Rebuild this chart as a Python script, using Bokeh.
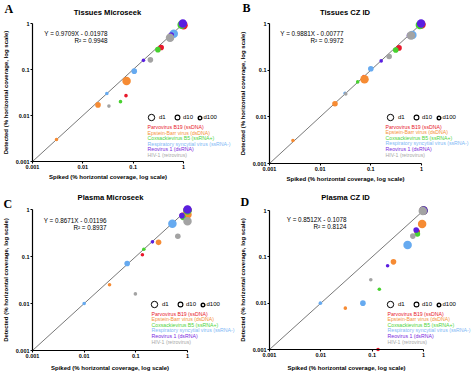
import numpy as np
from bokeh.plotting import figure
from bokeh.layouts import gridplot
from bokeh.models import ColumnDataSource, Label, Legend, LegendItem, FixedTicker, Range1d
from bokeh.embed import file_html
from bokeh.resources import INLINE

# ---------------- data ----------------
viruses = ["Parvovirus B19 (ssDNA)", "Epstein-Barr virus (dsDNA)",
           "Coxsackievirus B5 (ssRNA+)", "Respiratory syncytial virus (ssRNA-)",
           "Reovirus 1 (dsRNA)", "HIV-1 (retrovirus)"]
dilutions = ["d1", "d10", "d100"]
tick_values = [0.001, 0.01, 0.1, 1]
tick_labels = ["0.001", "0.01", "0.1", "1"]
identity_line = [0.001, 1]

panel_letters = ["A", "B", "C", "D"]
panel_titles = ["Tissues Microseek", "Tissues CZ ID", "Plasma Microseek", "Plasma CZ ID"]
fit_equations = ["Y = 0.9709X - 0.01978", "Y = 0.9881X - 0.00777",
                 "Y = 0.8671X - 0.01196", "Y = 0.8512X - 0.1078"]
fit_r2 = ["R\u00b2 = 0.9948", "R\u00b2 = 0.9972", "R\u00b2 = 0.8937", "R\u00b2 = 0.8124"]
x_label = "Spiked (% horizontal coverage, log scale)"
y_label = "Detected (% horizontal coverage, log scale)"

# order: virus by virus, each [d1, d10, d100]
tissues_microseek_spiked = [1.0, 0.36, 0.072, 0.074, 0.020, 0.0030, 0.92, 0.31, 0.056,
                            0.64, 0.105, 0.030, 0.97, 0.57, 0.16, 0.54, 0.22, 0.033]
tissues_microseek_detected = [0.92, 0.30, 0.027, 0.056, 0.017, 0.0030, 0.94, 0.27, 0.020,
                              0.60, 0.092, 0.030, 1.0, 0.56, 0.158, 0.49, 0.162, 0.016]
tissues_czid_spiked = [1.0, 0.36, 0.073, 0.075, 0.0196, 0.0029, 0.93, 0.31, 0.055,
                       0.66, 0.10, 0.031, 0.98, 0.58, 0.16, 0.62, 0.23, 0.032]
tissues_czid_detected = [0.95, 0.30, 0.073, 0.064, 0.019, 0.0031, 0.93, 0.27, 0.056,
                         0.57, 0.107, 0.032, 1.0, 0.55, 0.158, 0.55, 0.196, 0.031]
plasma_microseek_spiked = [1.0, 0.80, 0.134, 1.0, 0.275, 0.031, 1.0, 0.82, 0.143,
                           0.51, 0.068, 0.010, 1.0, 0.78, 0.21, 1.0, 0.65, 0.098]
plasma_microseek_detected = [0.97, 0.75, 0.109, 0.78, 0.20, 0.025, 0.95, 0.68, 0.143,
                             0.50, 0.071, 0.010, 1.0, 0.74, 0.205, 0.56, 0.27, 0.016]
plasma_czid_spiked = [1.0, 0.75, 0.13, 0.94, 0.26, 0.030, 1.0, 0.76, 0.138,
                      0.49, 0.066, 0.0098, 1.0, 0.72, 0.20, 0.97, 0.62, 0.094]
plasma_czid_detected = [1.0, 0.35, 0.001, 0.51, 0.078, 0.0078, 1.0, 0.31, 0.020,
                        0.18, 0.010, 0.010, 1.0, 0.38, 0.064, 0.97, 0.28, 0.032]

# ---------------- styles ----------------
virus_colors = ["#e8192c", "#f68b33", "#47d12f", "#66aaf0", "#5a1fe0", "#a3a3a3"]
legend_text_colors = ["#e8192c", "#f5923a", "#4fd43a", "#80b8f5", "#7a2be0", "#a8a8a8"]
dilution_sizes = [8.5, 5.6, 3.6]
legend_circle_sizes = [6.5, 4.8, 3.6]
legend_circle_widths = [1.0, 1.1, 1.4]
legend_circle_dx = [0, 26, 48]
legend_label_gap = [4, 3.5, 2.5]
SANS = "Liberation Sans"

panel_data = [
    (tissues_microseek_spiked, tissues_microseek_detected),
    (tissues_czid_spiked, tissues_czid_detected),
    (plasma_microseek_spiked, plasma_microseek_detected),
    (plasma_czid_spiked, plasma_czid_detected),
]

# figure-pixel geometry of each panel (L/R: x pixels of 0.001 and 1, T/B: y pixels of 1 and 0.001)
geometry = [
    dict(W=237, H=187, L=32, R=183, T=23, B=161, letter=(4, 8.5), title=(107, 12),
         eq=(107, 33, 39.5), xlab_standoff=2, leg=(151, 117, 147, 126.5)),
    dict(W=237, H=187, L=32, R=184, T=23, B=163, letter=(5, 7.5), title=(107.5, 12),
         eq=(106, 33, 40), xlab_standoff=2, leg=(153, 117, 148, 126)),
    dict(W=237, H=188, L=32, R=187, T=22, B=163, letter=(3, 16), title=(110, 10),
         eq=(106, 33, 39.5), xlab_standoff=4, leg=(154, 117, 151, 126)),
    dict(W=237, H=188, L=32, R=186, T=23, B=162, letter=(3, 14.5), title=(108, 10),
         eq=(109, 32, 39), xlab_standoff=5, leg=(153, 117, 150, 126)),
]


def add_label(p, g, fx, fy, text, **kw):
    p.add_layout(Label(x=fx, y=g["H"] - fy, x_units="screen", y_units="screen",
                       text=text, **kw))


def make_panel(i):
    g = geometry[i]
    spiked, detected = panel_data[i]
    L, R, T, B, W, H = g["L"], g["R"], g["T"], g["B"], g["W"], g["H"]
    lo = tick_values[0]
    x_start = 10 ** (np.log10(lo) - 3 * L / (R - L))
    x_end = 10 ** (np.log10(lo) + 3 * (W - L) / (R - L))
    y_start = 10 ** (np.log10(lo) - 3 * (H - B) / (B - T))
    y_end = 10 ** (np.log10(lo) + 3 * B / (B - T))
    p = figure(width=W, height=H, x_axis_type="log", y_axis_type="log",
               x_range=Range1d(x_start, x_end), y_range=Range1d(y_start, y_end),
               min_border=0, min_border_left=0, min_border_right=0,
               min_border_top=0, min_border_bottom=0,
               output_backend="svg", toolbar_location=None, tools="", title=None)
    p.outline_line_color = None
    p.grid.visible = False
    p.background_fill_color = "white"
    p.border_fill_color = "white"
    for ax in (p.xaxis[0], p.yaxis[0]):
        ax.ticker = FixedTicker(ticks=tick_values, minor_ticks=[])
        ax.bounds = (tick_values[0], tick_values[-1])
        ax.fixed_location = lo
        ax.major_label_overrides = dict(zip(tick_values, tick_labels))
        ax.axis_line_color = "black"
        ax.axis_line_width = 1.2
        ax.major_tick_line_color = "black"
        ax.major_tick_line_width = 1.1
        ax.major_tick_out = 2
        ax.major_tick_in = 0
        ax.minor_tick_line_color = None
        ax.major_label_text_font = SANS
        ax.major_label_text_font_style = "bold"
        ax.major_label_text_font_size = "5.5px"
        ax.major_label_text_color = "black"
        ax.major_label_standoff = 1
        ax.axis_label_text_font = SANS
        ax.axis_label_text_font_style = "bold"
        ax.axis_label_text_font_size = "6px"
        ax.axis_label_text_color = "black"
    p.xaxis[0].axis_label = x_label
    p.xaxis[0].axis_label_standoff = g["xlab_standoff"]
    p.yaxis[0].axis_label = y_label
    p.yaxis[0].axis_label_standoff = 4

    p.line(identity_line, identity_line, line_color="#555555", line_width=0.8)

    src = ColumnDataSource(dict(
        x=spiked, y=detected,
        color=[virus_colors[k // 3] for k in range(len(spiked))],
        size=[dilution_sizes[k % 3] for k in range(len(spiked))],
    ))
    p.scatter("x", "y", source=src, size="size", fill_color="color", line_color=None)

    # texts
    add_label(p, g, g["letter"][0], g["letter"][1], panel_letters[i],
              text_font="Liberation Serif", text_font_style="bold", text_font_size="12px",
              text_baseline="middle", text_align="left", text_color="black")
    add_label(p, g, g["title"][0], g["title"][1], panel_titles[i],
              text_font=SANS, text_font_style="bold", text_font_size="7.6px",
              text_baseline="middle", text_align="center", text_color="black")
    add_label(p, g, g["eq"][0], g["eq"][1], fit_equations[i],
              text_font=SANS, text_font_size="6.3px", text_baseline="middle",
              text_align="right", text_color="black")
    add_label(p, g, g["eq"][0], g["eq"][2], fit_r2[i],
              text_font=SANS, text_font_size="6.3px", text_baseline="middle",
              text_align="right", text_color="black")

    # size legend
    cx0, cy, tx, ty0 = g["leg"]
    for k, dil in enumerate(dilutions):
        s = legend_circle_sizes[k]
        gl = s / 0.4
        r = p.scatter(x=[np.nan], y=[np.nan], size=s, fill_color=None,
                      line_color="black", line_width=legend_circle_widths[k])
        cx = cx0 + legend_circle_dx[k]
        leg = Legend(items=[LegendItem(label=dil, renderers=[r])],
                     location=(cx - gl / 2, H - cy - gl / 2),
                     glyph_width=int(round(gl)), glyph_height=int(round(gl)),
                     label_standoff=int(round(legend_label_gap[k] - gl / 2)),
                     label_height=0, label_width=0, padding=0, margin=0, spacing=0,
                     border_line_color=None, background_fill_alpha=0,
                     label_text_font=SANS, label_text_font_size="6px",
                     label_text_color="black")
        p.add_layout(leg)

    # coloured virus list
    for k, name in enumerate(viruses):
        add_label(p, g, tx, ty0 + 5.6 * k, name, text_font=SANS, text_font_size="5.2px",
                  text_baseline="middle", text_align="left", text_color=legend_text_colors[k])
    return p


plots = [make_panel(i) for i in range(4)]
grid = gridplot([[plots[0], plots[1]], [plots[2], plots[3]]], toolbar_location=None)

open("out.html", "w").write(file_html(grid, INLINE))
